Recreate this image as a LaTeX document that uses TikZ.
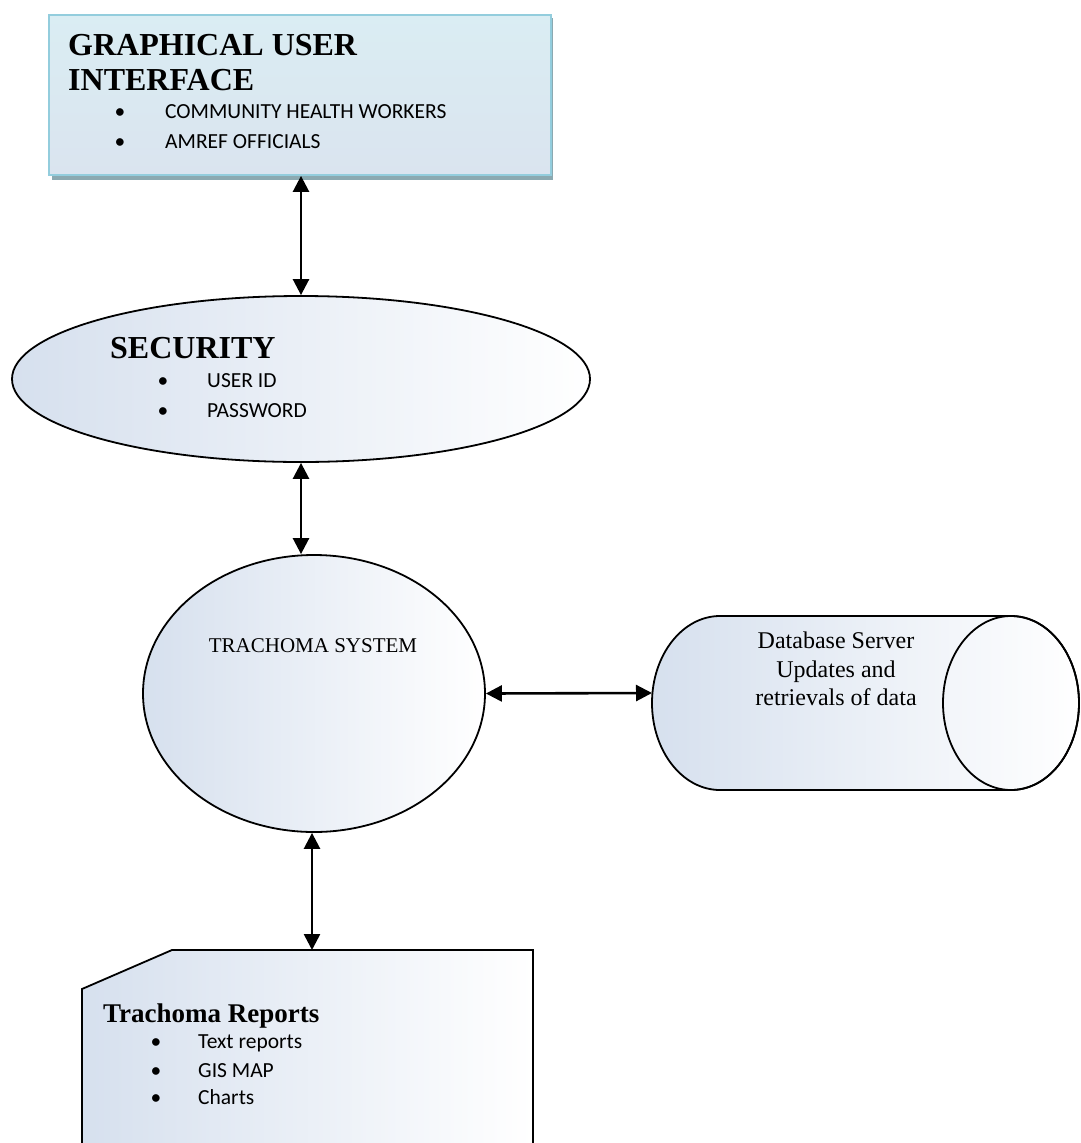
\documentclass[tikz,border=0pt]{standalone}
\usepackage{fontspec}
\setmainfont{Liberation Serif}
\newfontfamily\calfont{Carlito}
\usetikzlibrary{shapes.geometric,arrows.meta}
\definecolor{guifill}{HTML}{DAEDF3}
\definecolor{guifillb}{HTML}{DAE4EF}
\definecolor{guiborder}{HTML}{93CDDD}
\definecolor{guishadow}{HTML}{8BA9B1}
\definecolor{gradleft}{HTML}{D6E0EE}
\tikzset{
  link/.style={line width=2.6pt,{Triangle[length=16pt,width=16pt]}-{Triangle[length=16pt,width=16pt]}},
  outline/.style={draw=black,line width=1.8pt},
  grad/.style={left color=gradleft,right color=white},
  headtxt/.style={font=\bfseries\fontsize{32}{36}\selectfont,anchor=base west,inner sep=0},
  itemtxt/.style={font=\calfont\fontsize{21.5}{24}\selectfont,anchor=base west,inner sep=0},
  bul/.style={font=\calfont\fontsize{21.5}{24}\selectfont,anchor=base,inner sep=0},
  plaintxt/.style={font=\fontsize{21}{24}\selectfont,anchor=base,inner sep=0},
  dbtxt/.style={font=\fontsize{24}{28}\selectfont,anchor=base,inner sep=0},
}
\begin{document}
\begin{tikzpicture}[x=1pt,y=-1pt]
\useasboundingbox (0,0) rectangle (1080,1143);
\clip (0,0) rectangle (1080,1143);
% GUI box
\fill[guishadow] (52,18) rectangle (553,179.5);
\node[draw=guiborder,line width=2.4pt,top color=guifill,bottom color=guifillb,anchor=north west,minimum width=502pt,minimum height=160pt,inner sep=0] (gui) at (47.5,13.5) {};
\node[headtxt] (guit1) at (68,55) {GRAPHICAL USER};
\node[headtxt] (guit2) at (68,90) {INTERFACE};
\node[bul] (guib1) at (120,118) {•};
\node[itemtxt] (guii1) at (165,118) {COMMUNITY HEALTH WORKERS};
\node[bul] (guib2) at (120,148) {•};
\node[itemtxt] (guii2) at (165,148) {AMREF OFFICIALS};
% Security
\node[ellipse,outline,grad,minimum width=578pt,minimum height=166pt,inner sep=0] (sec) at (301,379) {};
\node[headtxt] (sect) at (110,358) {SECURITY};
\node[bul] (secb1) at (163,387) {•};
\node[itemtxt] (seci1) at (207,387) {USER ID};
\node[bul] (secb2) at (163,417) {•};
\node[itemtxt] (seci2) at (207,417) {PASSWORD};
% Trachoma system
\node[ellipse,outline,grad,minimum width=342pt,minimum height=277pt,inner sep=0] (trach) at (314,693.5) {};
\node[plaintxt] (tracht) at (313,652) {TRACHOMA SYSTEM};
% Database cylinder
\coordinate (dbleft) at (652,693);
\path[grad,outline] (720,616) -- (1011,616) arc[start angle=-90,end angle=90,x radius=68,y radius=87] -- (720,790) arc[start angle=90,end angle=270,x radius=68,y radius=87] -- cycle;
\draw[outline] (1011,703) ellipse[x radius=68,y radius=87];
\node[dbtxt] (db1) at (836,648) {Database Server};
\node[dbtxt] (db2) at (836,677) {Updates and};
\node[dbtxt] (db3) at (836,705) {retrievals of data};
% Reports
\coordinate (reptop) at (312,950);
\path[grad,outline] (172,950) -- (533,950) -- (533,1160) -- (82,1160) -- (82,989) -- cycle;
\node[headtxt,font=\bfseries\fontsize{27}{30}\selectfont] (rept) at (103,1022) {Trachoma Reports};
\node[bul] (repb1) at (156,1048) {•};
\node[itemtxt] (repi1) at (198,1048) {Text reports};
\node[bul] (repb2) at (156,1077) {•};
\node[itemtxt] (repi2) at (198,1077) {GIS MAP};
\node[bul] (repb3) at (156,1104) {•};
\node[itemtxt] (repi3) at (198,1104) {Charts};
% connectors
\draw[link] (sec.north |- gui.south) -- (sec.north);
\draw[link] (sec.south) -- (sec.south |- trach.north);
\draw[link] (trach.east) -- (dbleft);
\draw[link] (reptop |- trach.south) -- (reptop);
\end{tikzpicture}
\end{document}
